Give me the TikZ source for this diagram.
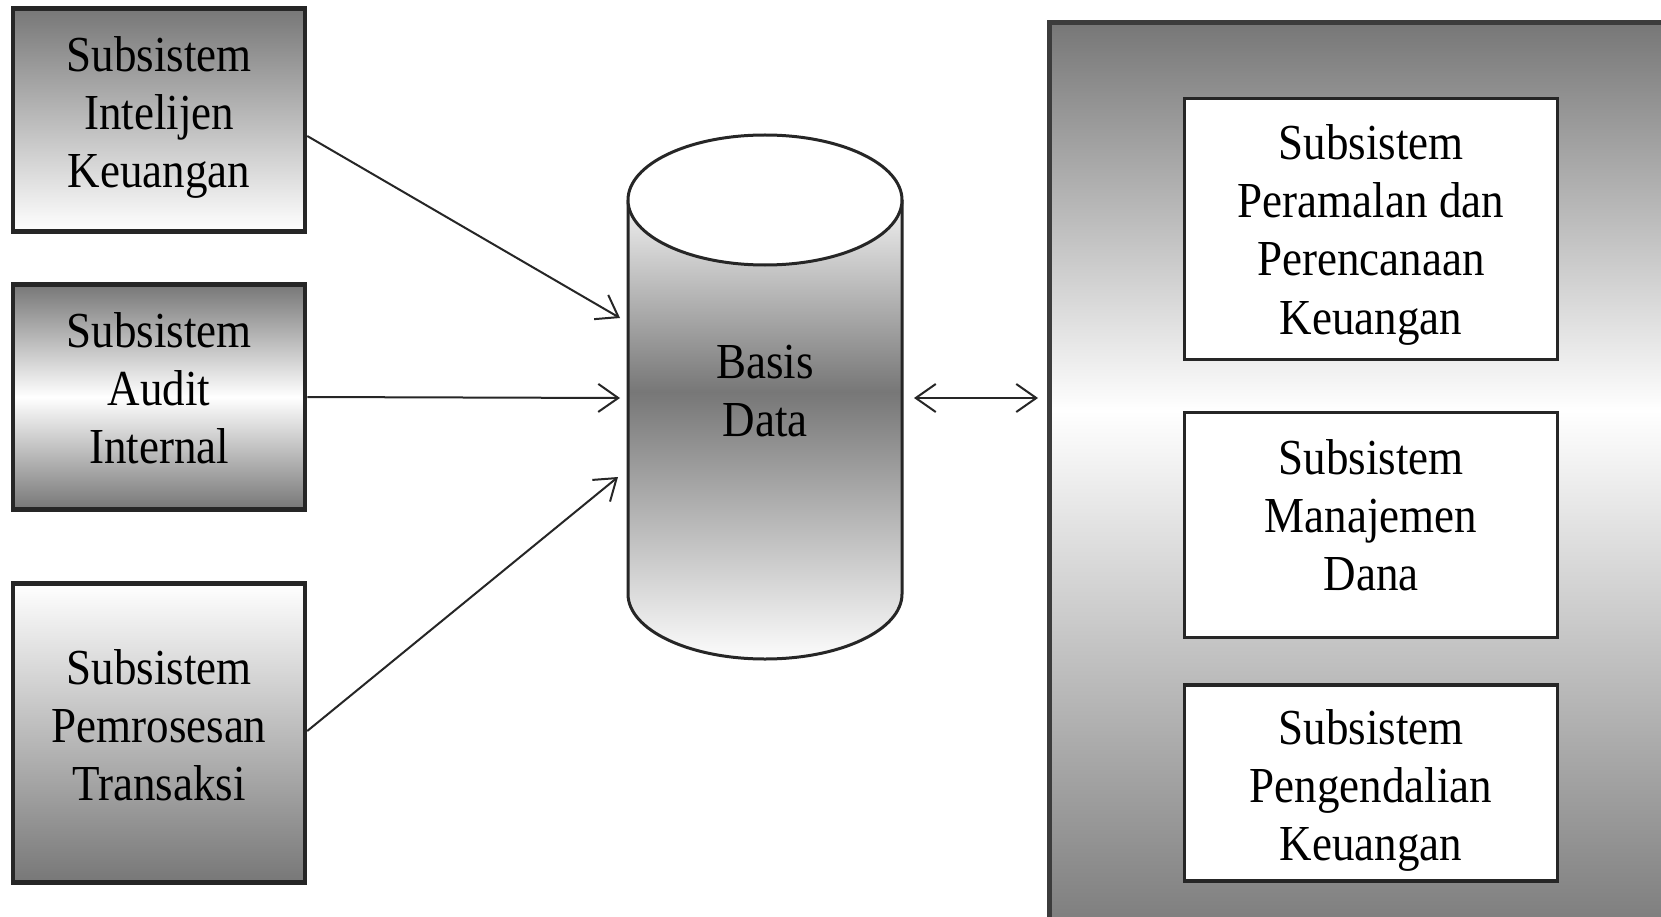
\documentclass[tikz,border=0pt]{standalone}
\usepackage{fontspec}
\usepackage{graphicx}
\setmainfont{Liberation Serif}
\usetikzlibrary{arrows.meta,calc}
\definecolor{shadegray}{HTML}{777777}
\definecolor{edge}{HTML}{262626}
% tall lettering: stacked, centred lines stretched vertically
\newcommand{\tallstack}[1]{\scalebox{1}[1.12]{\begin{tabular}{@{}c@{}}#1\end{tabular}}}
\begin{document}
\begin{tikzpicture}[x=1pt,y=-1pt,
  font=\fontsize{45}{52}\selectfont,
  sidebox/.style={draw=edge, line width=4.5pt, minimum width=292pt, inner sep=0pt},
  innerbox/.style={draw=edge, fill=white, line width=3.5pt, minimum width=373pt,
    inner sep=0pt},
  caption/.style={inner sep=0pt, outer sep=0pt},
  link/.style={draw=edge, line width=2pt, -{Straight Barb[length=20pt,width=28pt]}},
  dlink/.style={draw=edge, line width=2pt,
    {Straight Barb[length=20pt,width=28pt]}-{Straight Barb[length=20pt,width=28pt]}}]

\clip (0,0) rectangle (1661,917);
\fill[white] (0,0) rectangle (1661,917);

% input subsystems on the left
\node[sidebox, minimum height=223pt, top color=shadegray, bottom color=white]
  (b1) at (159,120) {};
\node[sidebox, minimum height=225pt, top color=shadegray, bottom color=shadegray,
  middle color=white] (b2) at (159,397) {};
\node[sidebox, minimum height=299pt, top color=white, bottom color=shadegray]
  (b3) at (159,733) {};
\node[caption] (b1t) at (159,118) {\tallstack{Subsistem\\Intelijen\\Keuangan}};
\node[caption] (b2t) at (159,394) {\tallstack{Subsistem\\Audit\\Internal}};
\node[caption] (b3t) at (159,731) {\tallstack{Subsistem\\Pemrosesan\\Transaksi}};

% database cylinder
\begin{scope}
  \clip (628,200) -- (628,594)
    arc[start angle=180, end angle=360, x radius=137pt, y radius=65pt]
    -- (902,200)
    arc[start angle=0, end angle=-180, x radius=137pt, y radius=65pt] -- cycle;
  \shade[top color=white!95!black, bottom color=shadegray] (620,200) rectangle (910,392);
  \shade[top color=shadegray, bottom color=white] (620,392) rectangle (910,665);
\end{scope}
\draw[edge, line width=3pt] (628,200) -- (628,594)
  arc[start angle=180, end angle=360, x radius=137pt, y radius=65pt] -- (902,200);
\draw[edge, line width=3pt, fill=white] (765,200) ellipse[x radius=137pt, y radius=65pt];
\node[inner sep=0pt, outer sep=0pt, minimum width=274pt, minimum height=524pt]
  (db) at (765,397) {};
\node[caption] (dbt) at (765,396) {\tallstack{Basis\\Data}};

% output subsystems panel
\node[inner sep=0pt, outer sep=0pt, minimum width=640pt, minimum height=920pt,
  anchor=north west] (panel) at (1049,23) {};
\shade[top color=shadegray, bottom color=white] (1049,23) rectangle (1700,411);
\shade[top color=white, bottom color=shadegray] (1049,411) rectangle (1700,950);
\draw[edge!90, line width=5pt] (1700,23) -- (1049,23) -- (1049,950);

\node[innerbox, minimum height=261pt] (o1) at (1371,229) {};
\node[innerbox, minimum height=225pt] (o2) at (1371,525) {};
\node[innerbox, minimum height=196pt] (o3) at (1371,783) {};
\node[caption] (o1t) at (1371,235)
  {\tallstack{Subsistem\\Peramalan dan\\Perencanaan\\Keuangan}};
\node[caption] (o2t) at (1371,521) {\tallstack{Subsistem\\Manajemen\\Dana}};
\node[caption] (o3t) at (1371,791) {\tallstack{Subsistem\\Pengendalian\\Keuangan}};

% connectors
\draw[link] ($(b1.east)+(0,16)$) -- ($(db.west)+(-8,-79)$);
\draw[link] (b2.east) -- ($(db.west)+(-8,1)$);
\draw[link] ($(b3.east)+(0,-2)$) -- ($(db.west)+(-10,80)$);
\draw[dlink] ($(db.east)+(12,1)$) -- ($(panel.west |- db.east)+(-11,1)$);
\end{tikzpicture}
\end{document}
